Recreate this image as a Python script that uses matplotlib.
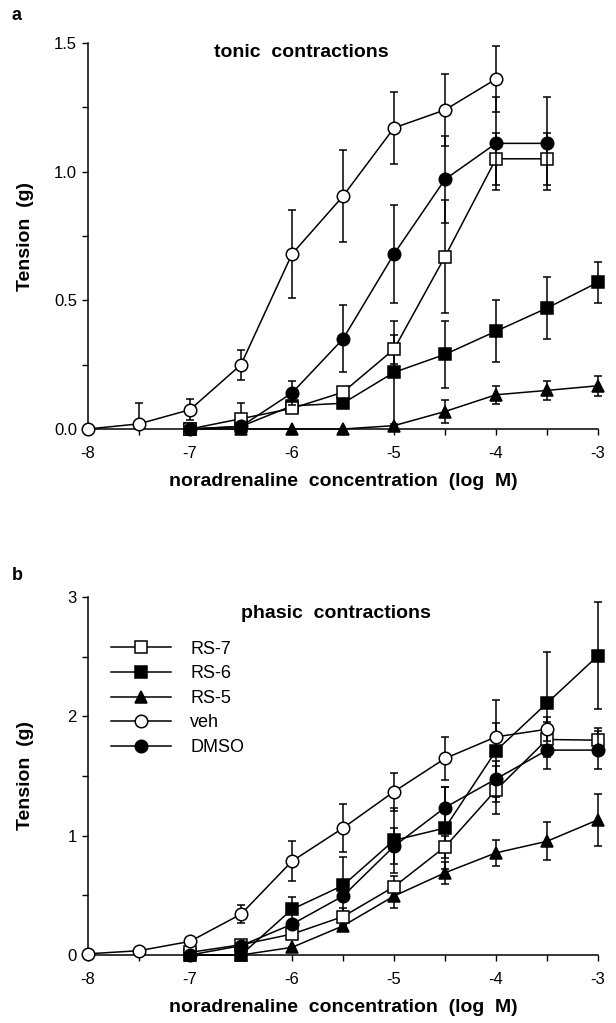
import matplotlib
matplotlib.use("Agg")
import matplotlib.pyplot as plt
from matplotlib.lines import Line2D
import numpy as np

plt.rcParams['font.family'] = ['Liberation Sans', 'DejaVu Sans']

# ---------------- data ----------------
# Panel a (tonic contractions)
a_veh_x = [-8, -7.5, -7, -6.5, -6, -5.5, -5, -4.5, -4]
a_veh_y = [0.0, 0.02, 0.075, 0.25, 0.68, 0.905, 1.17, 1.24, 1.36]
a_veh_e = [0.0, 0.08, 0.04, 0.058, 0.17, 0.18, 0.14, 0.14, 0.13]

a_dmso_x = [-7, -6.5, -6, -5.5, -5, -4.5, -4, -3.5]
a_dmso_y = [0.0, 0.01, 0.14, 0.35, 0.68, 0.97, 1.11, 1.11]
a_dmso_e = [0.0, 0.0, 0.045, 0.13, 0.19, 0.17, 0.18, 0.18]

a_rs7_x = [-7, -6.5, -6, -5.5, -5, -4.5, -4, -3.5]
a_rs7_y = [0.0, 0.04, 0.08, 0.143, 0.31, 0.67, 1.05, 1.05]
a_rs7_e = [0.0, 0.06, 0.0, 0.0, 0.056, 0.22, 0.10, 0.10]

a_rs6_x = [-7, -6.5, -6, -5.5, -5, -4.5, -4, -3.5, -3]
a_rs6_y = [0.0, 0.01, 0.09, 0.10, 0.22, 0.29, 0.38, 0.47, 0.57]
a_rs6_e = [0.0, 0.0, 0.0, 0.0, 0.20, 0.13, 0.12, 0.12, 0.08]

a_rs5_x = [-7, -6.5, -6, -5.5, -5, -4.5, -4, -3.5, -3]
a_rs5_y = [0.0, 0.0, 0.0, 0.0, 0.013, 0.068, 0.133, 0.15, 0.168]
a_rs5_e = [0.0, 0.0, 0.0, 0.0, 0.0, 0.045, 0.036, 0.038, 0.038]

# Panel b (phasic contractions)
b_veh_x = [-8, -7.5, -7, -6.5, -6, -5.5, -5, -4.5, -4, -3.5]
b_veh_y = [0.01, 0.036, 0.114, 0.342, 0.786, 1.064, 1.369, 1.647, 1.828, 1.892]
b_veh_e = [0.0, 0.0, 0.0, 0.075, 0.17, 0.2, 0.16, 0.18, 0.12, 0.1]

b_rs7_x = [-7, -6.5, -6, -5.5, -5, -4.5, -4, -3.5, -3]
b_rs7_y = [0.022, 0.086, 0.175, 0.322, 0.572, 0.906, 1.383, 1.806, 1.80]
b_rs7_e = [0.0, 0.0, 0.0, 0.07, 0.09, 0.09, 0.2, 0.15, 0.1]

b_rs6_x = [-7, -6.5, -6, -5.5, -5, -4.5, -4, -3.5, -3]
b_rs6_y = [0.0, 0.0, 0.383, 0.583, 0.961, 1.064, 1.711, 2.111, 2.508]
b_rs6_e = [0.0, 0.0, 0.1, 0.24, 0.27, 0.34, 0.43, 0.43, 0.45]

b_rs5_x = [-7, -6.5, -6, -5.5, -5, -4.5, -4, -3.5, -3]
b_rs5_y = [0.0, 0.0, 0.064, 0.244, 0.494, 0.689, 0.856, 0.953, 1.133]
b_rs5_e = [0.0, 0.0, 0.0, 0.0, 0.1, 0.09, 0.11, 0.16, 0.22]

b_dmso_x = [-7, -6.5, -6, -5.5, -5, -4.5, -4, -3.5, -3]
b_dmso_y = [0.0, 0.078, 0.258, 0.494, 0.911, 1.236, 1.475, 1.717, 1.717]
b_dmso_e = [0.0, 0.0, 0.0, 0.0, 0.15, 0.17, 0.15, 0.16, 0.16]

x_ticks = [-8, -7, -6, -5, -4, -3]
a_yticks = [0.0, 0.5, 1.0, 1.5]
a_yticklabels = ['0.0', '0.5', '1.0', '1.5']
b_yticks = [0, 1, 2, 3]
b_yticklabels = ['0', '1', '2', '3']
legend_order = ['RS-7', 'RS-6', 'RS-5', 'veh', 'DMSO']

# ---------------- drawing ----------------
fig = plt.figure(figsize=(6.16, 10.23), dpi=100)
W, H = 616, 1023

def mk_ax(left, right, top, bottom):
    return fig.add_axes([left / W, 1 - bottom / H, (right - left) / W, (bottom - top) / H])

ax_a = mk_ax(88, 598, 43, 429)
ax_b = mk_ax(88, 598, 597, 955)

styles = {
    'RS-7': dict(marker='s', mfc='white', mec='black', ms=8),
    'RS-6': dict(marker='s', mfc='black', mec='black', ms=8),
    'RS-5': dict(marker='^', mfc='black', mec='black', ms=8.5),
    'veh': dict(marker='o', mfc='white', mec='black', ms=9),
    'DMSO': dict(marker='o', mfc='black', mec='black', ms=9),
}

def draw(ax, x, y, e, name, z):
    st = styles[name]
    y = np.asarray(y, float)
    e = np.asarray(e, float)
    lower = np.minimum(e, y)  # bars stop at the x axis
    ax.errorbar(x, y, yerr=[lower, e], color='black', lw=1.1, elinewidth=1.1,
                capsize=2.8, capthick=1.1, marker=st['marker'], ms=st['ms'],
                mfc=st['mfc'], mec=st['mec'], mew=1.1, zorder=z,
                clip_on=False)

draw(ax_a, a_rs5_x, a_rs5_y, a_rs5_e, 'RS-5', 3)
draw(ax_a, a_rs6_x, a_rs6_y, a_rs6_e, 'RS-6', 4)
draw(ax_a, a_rs7_x, a_rs7_y, a_rs7_e, 'RS-7', 5)
draw(ax_a, a_dmso_x, a_dmso_y, a_dmso_e, 'DMSO', 6)
draw(ax_a, a_veh_x, a_veh_y, a_veh_e, 'veh', 7)

draw(ax_b, b_rs5_x, b_rs5_y, b_rs5_e, 'RS-5', 3)
draw(ax_b, b_rs6_x, b_rs6_y, b_rs6_e, 'RS-6', 4)
draw(ax_b, b_rs7_x, b_rs7_y, b_rs7_e, 'RS-7', 5)
draw(ax_b, b_dmso_x, b_dmso_y, b_dmso_e, 'DMSO', 6)
draw(ax_b, b_veh_x, b_veh_y, b_veh_e, 'veh', 7)

for ax, yt, ytl, ymax, ystep in [(ax_a, a_yticks, a_yticklabels, 1.5, 0.25),
                                  (ax_b, b_yticks, b_yticklabels, 3, 0.5)]:
    ax.set_xlim(-8, -3)
    ax.set_ylim(0, ymax)
    ax.spines['top'].set_visible(False)
    ax.spines['right'].set_visible(False)
    ax.spines['left'].set_linewidth(1.1)
    ax.spines['bottom'].set_linewidth(1.1)
    ax.set_xticks(x_ticks)
    ax.set_xticklabels([str(v) for v in x_ticks])
    ax.set_xticks(np.arange(-8, -2.9, 0.5), minor=True)
    ax.set_yticks(yt)
    ax.set_yticklabels(ytl)
    ax.set_yticks(np.arange(0, ymax + 0.01, ystep), minor=True)
    ax.tick_params(axis='both', which='both', direction='out', length=4,
                   width=1.0, labelsize=12)
    ax.tick_params(axis='x', which='both', pad=8)
    ax.tick_params(axis='y', which='both', pad=4)
    ax.set_xlabel('noradrenaline  concentration  (log  M)', fontsize=14,
                  fontweight='bold', labelpad=9)
    ax.set_ylabel('Tension  (g)', fontsize=14, fontweight='bold')
    ax.yaxis.set_label_coords(-0.106, 0.5)

ax_a.text(0.418, 0.975, 'tonic  contractions', transform=ax_a.transAxes,
          ha='center', va='center', fontsize=14, fontweight='bold')
ax_b.text(0.486, 0.955, 'phasic  contractions', transform=ax_b.transAxes,
          ha='center', va='center', fontsize=14, fontweight='bold')

fig.text(12 / W, 1 - 16 / H, 'a', fontsize=13, fontweight='bold', va='center')
fig.text(12 / W, 1 - 576 / H, 'b', fontsize=13, fontweight='bold', va='center')

handles = [Line2D([], [], color='black', lw=1.1, marker=styles[k]['marker'],
                  ms=styles[k]['ms'], mfc=styles[k]['mfc'], mec='black', mew=1.1)
           for k in legend_order]
leg = ax_b.legend(handles, legend_order, loc='upper left',
                  bbox_to_anchor=(0.045, 0.878), frameon=False, fontsize=13,
                  handlelength=3.3, handletextpad=1.1, labelspacing=0.42,
                  borderaxespad=0, borderpad=0)

fig.savefig('out.png', dpi=100)
